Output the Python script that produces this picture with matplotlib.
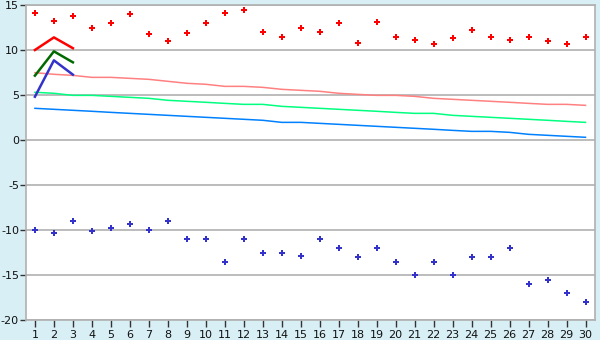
import matplotlib
matplotlib.use("Agg")
import matplotlib.pyplot as plt

plt.rcParams["axes.unicode_minus"] = False

x = list(range(1, 31))
red_points = [14.1, 13.2, 13.8, 12.4, 13.0, 14.0, 11.75, 11.0, 11.85, 13.0,
              14.1, 14.5, 12.0, 11.5, 12.4, 12.0, 13.0, 10.75, 13.1, 11.5,
              11.1, 10.65, 11.3, 12.2, 11.4, 11.1, 11.4, 11.0, 10.65, 11.4]
blue_points = [-10.0, -10.35, -9.0, -10.15, -9.8, -9.35, -10.0, -9.0, -11.0, -11.0,
               -13.5, -11.0, -12.5, -12.5, -12.9, -11.0, -12.0, -13.0, -12.0, -13.5,
               -15.0, -13.5, -15.0, -13.0, -13.0, -12.0, -16.0, -15.5, -17.0, -18.0]
short_x = [1, 2, 3]
short_red = [10.0, 11.4, 10.2]
short_green = [7.15, 9.85, 8.63]
short_blue = [4.81, 8.85, 7.26]
long_red = [7.48, 7.3, 7.18, 6.96, 6.96, 6.85, 6.74, 6.52, 6.3, 6.19,
            5.96, 5.96, 5.85, 5.63, 5.52, 5.41, 5.19, 5.07, 4.96, 4.96,
            4.85, 4.63, 4.52, 4.41, 4.3, 4.19, 4.07, 3.96, 3.96, 3.85]
long_green = [5.3, 5.19, 4.96, 4.96, 4.85, 4.74, 4.63, 4.41, 4.3, 4.19,
              4.07, 3.96, 3.96, 3.74, 3.63, 3.52, 3.41, 3.3, 3.19, 3.07,
              2.96, 2.96, 2.74, 2.63, 2.52, 2.41, 2.3, 2.19, 2.07, 1.96]
long_blue = [3.52, 3.41, 3.3, 3.19, 3.07, 2.96, 2.85, 2.74, 2.63, 2.52,
             2.41, 2.3, 2.19, 1.96, 1.96, 1.85, 1.74, 1.63, 1.52, 1.41,
             1.3, 1.19, 1.07, 0.96, 0.96, 0.85, 0.63, 0.52, 0.41, 0.3]
y_ticks = [-20, -15, -10, -5, 0, 5, 10, 15]

bg = "#d9eff6"
grid_c = "#b0b0b0"

fig = plt.figure(figsize=(6, 3.4), dpi=100, facecolor=bg)
ax = fig.add_axes([26/600, 20/340, 569/600, 315/340])
ax.set_facecolor("white")

for yt in y_ticks:
    ax.axhline(yt, color=grid_c, lw=1.2, zorder=1)

ax.plot(x, long_red, color="#ff8080", lw=1.1, zorder=2)
ax.plot(x, long_green, color="#00ff80", lw=1.1, zorder=2)
ax.plot(x, long_blue, color="#0080ff", lw=1.1, zorder=2)

ax.plot(short_x, short_red, color="#ff0000", lw=1.8, zorder=3)
ax.plot(short_x, short_green, color="#006a00", lw=1.8, zorder=3)
ax.plot(short_x, short_blue, color="#3333cc", lw=1.8, zorder=3)

ax.plot(x, red_points, linestyle="none", marker="P", markersize=5,
        color="#ff0000", markeredgewidth=0, zorder=4)
ax.plot(x, blue_points, linestyle="none", marker="P", markersize=5,
        color="#3333cc", markeredgewidth=0, zorder=4)

ax.set_xlim(0.53, 30.5)
ax.set_ylim(-20, 15)
ax.set_xticks(x)
ax.set_yticks(y_ticks)
ax.tick_params(axis="x", length=5, width=1, color="#333333", labelsize=8,
               pad=2, labelcolor="#111111")
ax.tick_params(axis="y", length=4, width=1, color="#333333", labelsize=8,
               pad=1, labelcolor="#111111")
for s in ax.spines.values():
    s.set_color(grid_c)
    s.set_linewidth(1.2)

fig.savefig("out.png", dpi=100, facecolor=bg)
